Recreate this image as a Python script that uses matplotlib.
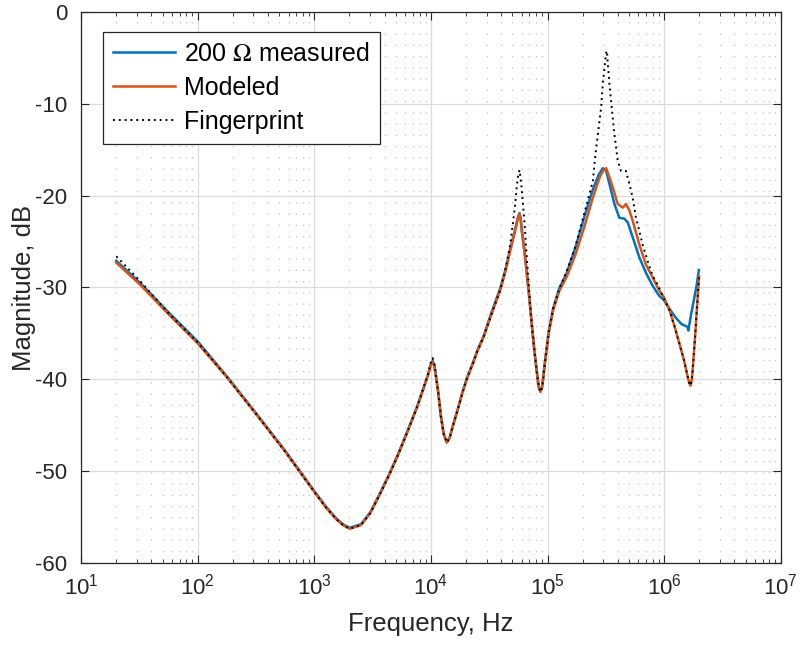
import matplotlib
matplotlib.use("Agg")
import matplotlib.pyplot as plt
from matplotlib.ticker import LogLocator, NullFormatter

plt.rcParams['font.family'] = ['Liberation Sans', 'DejaVu Sans']
plt.rcParams['mathtext.fontset'] = 'stix'
plt.rcParams['axes.unicode_minus'] = False

# modeled response (Hz, dB)
f_mod = [20, 32, 56, 100, 178, 316, 562, 1000, 1259, 1549, 1778, 2014,
         2512, 3020, 3631, 4365, 5248, 6310, 7586, 8710, 9550, 9886, 10328,
         10715, 11482, 12162, 12882, 13677, 14454, 15488, 16982, 18621, 20417,
         22909, 25119, 28314, 33113, 39264, 43652, 47863, 52723, 55590, 57412,
         58884, 60117, 63096, 66222, 69663, 73114, 76736, 80538, 84140, 87096,
         90157, 94842, 102329, 111686, 125893, 145211, 173780, 207970, 244906,
         281838, 301995, 318420, 339625, 363078, 399945, 441570, 470977, 503501,
         537032, 612350, 698232, 796159, 905733, 1000000, 1122018, 1258925,
         1479108, 1584893, 1640590, 1686553, 1729816, 1757924, 1840772, 1918669,
         1995262]
db_mod = [-27.3, -29.7, -32.9, -36.1, -39.8, -43.8, -47.9, -52.3,
          -54.0, -55.3, -55.95, -56.3, -55.9, -54.6, -52.6, -50.5, -48.2, -45.7,
          -43.1, -40.9, -39.4, -38.6, -38.1, -38.6, -41.2, -44.0, -46.0, -46.9,
          -46.4, -45.0, -43.3, -41.5, -39.9, -38.3, -36.9, -35.4, -32.9, -30.3,
          -28.2, -26.0, -23.8, -22.5, -22.0, -22.6, -23.8, -25.8, -28.3, -31.0,
          -33.9, -36.6, -39.0, -40.9, -41.4, -40.8, -38.3, -35.0, -32.5, -30.4,
          -28.9, -26.4, -23.3, -20.2, -17.9, -17.2, -17.0, -18.0, -19.1, -20.9,
          -21.3, -20.9, -21.6, -22.7, -25.3, -27.5, -28.9, -30.3, -31.1, -32.6,
          -34.7, -37.9, -39.6, -40.4, -40.7, -40.0, -39.0, -35.5, -32.0, -28.8]

# 200 ohm measured (Hz, dB)
f_meas = [20, 32, 56, 100, 178, 316, 562, 1000, 1259, 1549, 1778, 2014,
          2512, 3020, 3631, 4365, 5248, 6310, 7586, 8710, 9550, 9886, 10328,
          10715, 11482, 12162, 12882, 13677, 14454, 15488, 16982, 18621, 20417,
          22909, 25119, 28314, 33113, 39264, 43652, 47863, 52723, 55590, 57412,
          58884, 60117, 63096, 66222, 69663, 73114, 76736, 80538, 84140, 87096,
          90157, 94842, 102329, 111686, 125893, 145211, 173780, 207970, 244906,
          275000, 297852, 318420, 339625, 374973, 413048, 456037, 487528, 537032,
          612350, 698232, 796159, 905733, 1000000, 1122018, 1258925, 1412538,
          1531087, 1584893, 1614359, 1700000, 1798871, 1900000, 1986095]
db_meas = [-27.1, -29.5, -32.7, -35.9, -39.7, -43.7, -47.8, -52.2,
           -53.9, -55.2, -55.85, -56.2, -55.8, -54.5, -52.5, -50.4, -48.1, -45.6,
           -43.0, -40.8, -39.3, -38.5, -38.0, -38.5, -41.2, -44.0, -46.0, -46.9,
           -46.4, -45.0, -43.3, -41.4, -39.8, -38.2, -36.8, -35.3, -32.7, -30.1,
           -28.0, -25.8, -23.7, -22.4, -21.9, -22.5, -23.7, -25.8, -28.3, -31.0,
           -33.9, -36.6, -39.0, -40.9, -41.3, -40.7, -38.2, -34.8, -32.3, -30.1,
           -28.5, -25.6, -22.2, -19.3, -17.7, -17.0, -17.3, -18.7, -20.9, -22.4,
           -22.5, -22.9, -24.5, -26.7, -28.4, -29.8, -30.9, -31.4, -32.4, -33.3,
           -34.0, -34.2, -34.3, -34.7, -33.0, -31.4, -29.8, -28.1]

# fingerprint (Hz, dB)
f_fp = [20, 32, 56, 100, 178, 316, 562, 1000, 1259, 1549, 1778, 2014,
        2512, 3020, 3631, 4365, 5248, 6310, 7586, 8710, 9550, 9886, 10328,
        10715, 11482, 12162, 12882, 13677, 14454, 15488, 16982, 18621, 20417,
        22909, 25119, 28314, 33113, 39264, 43652, 47863, 51050, 52723, 54450,
        56234, 57544, 59704, 61660, 63680, 66222, 69663, 73114, 76736, 80538,
        84140, 87096, 90157, 94842, 102329, 111686, 125893, 145211, 173780,
        207970, 229087, 244906, 252930, 261818, 270396, 279254, 288403, 297852,
        308319, 318420, 323594, 328852, 339625, 350752, 363078, 374973, 387258,
        399945, 427563, 470977, 503501, 537032, 574116, 612350, 653131, 721107,
        796159, 905733, 968278, 1047129, 1122018, 1258925, 1479108, 1584893,
        1640590, 1686553, 1729816, 1757924, 1840772, 1918669, 1995262]
db_fp = [-26.6, -29.3, -32.8, -36.0, -39.8, -43.8, -47.9, -52.3,
         -54.0, -55.3, -55.95, -56.3, -55.9, -54.6, -52.6, -50.5, -48.2, -45.7,
         -43.1, -40.8, -39.2, -38.3, -37.7, -38.4, -41.2, -44.0, -46.0, -46.9,
         -46.4, -45.0, -43.3, -41.5, -39.9, -38.3, -36.9, -35.4, -32.9, -30.3,
         -28.0, -25.3, -22.5, -21.0, -19.0, -17.6, -17.2, -18.9, -21.0, -23.2,
         -26.5, -30.5, -33.9, -36.6, -39.0, -40.9, -41.4, -40.8, -38.3, -34.9,
         -32.3, -30.2, -28.3, -25.5, -21.8, -19.8, -18.4, -16.5, -14.7, -13.3,
         -11.8, -10.4, -7.8, -6.0, -4.4, -4.2, -5.6, -7.8, -9.6, -11.6, -13.3,
         -14.7, -16.2, -17.3, -17.3, -18.7, -20.2, -22.4, -23.8, -25.3, -27.1,
         -28.7, -30.0, -30.9, -31.8, -32.6, -34.7, -37.9, -39.6, -40.4, -40.7,
         -40.0, -39.0, -35.5, -32.0, -28.8]

fig, ax = plt.subplots(figsize=(8.04, 6.46), dpi=100)
fig.subplots_adjust(left=0.101, right=0.971, top=0.981, bottom=0.129)

ax.semilogx(f_meas, db_meas, color='#0072BD', lw=1.8, label='200 $\\Omega$ measured')
ax.semilogx(f_mod, db_mod, color='#D95319', lw=1.8, label='Modeled')
ax.semilogx(f_fp, db_fp, color='black', lw=1.4, ls=(0, (1, 2)), label='Fingerprint')

ax.set_xlim(10, 1e7)
ax.set_ylim(-60, 0)
ax.set_yticks(range(-60, 1, 10))
ax.xaxis.set_major_locator(LogLocator(base=10, numticks=10))
ax.xaxis.set_minor_locator(LogLocator(base=10, subs=range(2, 10), numticks=100))
ax.xaxis.set_minor_formatter(NullFormatter())

ax.grid(True, which='major', color='#dcdcdc', lw=0.9)
ax.grid(True, which='minor', axis='x', color='#c4c4c4', lw=0.9, ls=(0, (1, 8)))
ax.set_axisbelow(True)

for s in ax.spines.values():
    s.set_color('#262626')
    s.set_linewidth(0.9)
ax.tick_params(which='both', direction='in', top=True, right=True,
               colors='#262626', labelsize=16)
ax.tick_params(axis='y', pad=10)
ax.tick_params(axis='x', pad=8)
ax.tick_params(which='major', length=6)
ax.tick_params(which='minor', length=3)

ax.set_xlabel('Frequency, Hz', fontsize=18.5, color='#262626', labelpad=9)
ax.set_ylabel('Magnitude, dB', fontsize=18.5, color='#262626', labelpad=-1)

leg = ax.legend(loc='upper left', fontsize=18, frameon=True, fancybox=False,
                edgecolor='#262626', framealpha=1, borderpad=0.4,
                labelspacing=0.4, handlelength=2.5, handletextpad=0.35,
                borderaxespad=0, bbox_to_anchor=(0.031, 0.965))
leg.get_frame().set_linewidth(0.9)

plt.savefig('out.png', dpi=100)
